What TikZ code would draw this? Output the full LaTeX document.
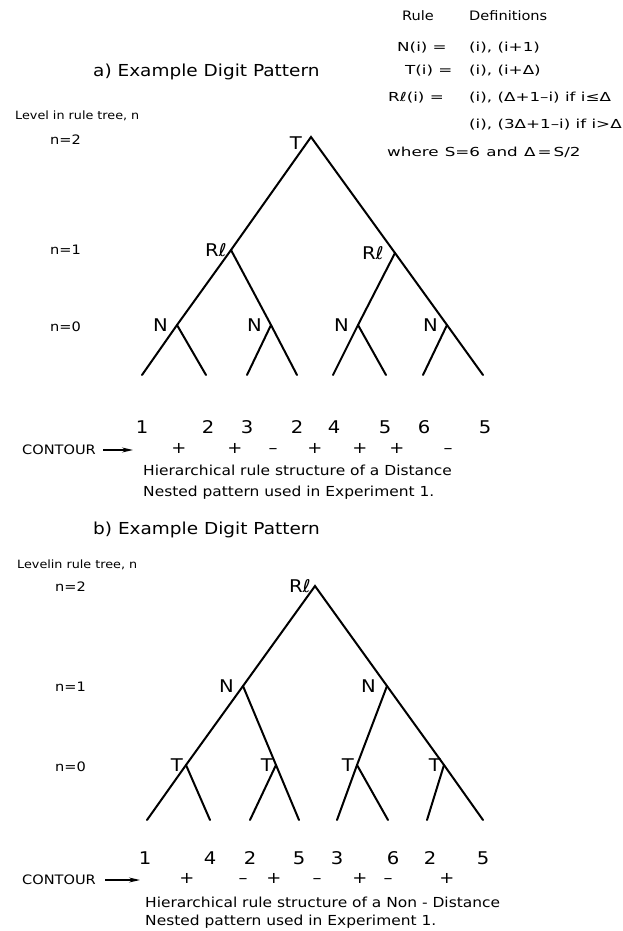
\documentclass[tikz,border=0pt]{standalone}
\usepackage{fontspec}
\setmainfont{DejaVu Sans}[FakeStretch=1.12]
\newfontfamily\rulefont{DejaVu Sans}[FakeStretch=1.35]
\usepackage{tikz}
\usetikzlibrary{arrows.meta,positioning}

\begin{document}
\begin{tikzpicture}[x=1pt,y=-1pt,>={Stealth[length=11pt,width=5pt]},
  br/.style={line width=2pt,line cap=round},
  lab/.style={font=\fontsize{17.5}{17.5}\selectfont,inner sep=0pt},
  lvl/.style={font=\fontsize{13}{13}\selectfont,anchor=west,inner sep=0pt},
  dig/.style={font=\fontsize{17.5}{17.5}\selectfont,inner sep=0pt},
  sgn/.style={font=\fontsize{16}{16}\selectfont,inner sep=0pt,text height=0.65em,text depth=0pt},
  ttl/.style={font=\fontsize{16.5}{16.5}\selectfont,anchor=west,inner sep=0pt},
  captxt/.style={font=\fontsize{13.8}{14}\selectfont,anchor=west,inner sep=0pt},
  small/.style={font=\fontsize{11.4}{12}\selectfont,anchor=west,inner sep=0pt},
  rul/.style={font=\rulefont\fontsize{12.4}{12.4}\selectfont,anchor=west,inner sep=0pt},
  arr/.style={->,line width=1.4pt}]
\useasboundingbox (0,0) rectangle (622,931);

% rule definitions
\node[font=\fontsize{13}{13}\selectfont,anchor=west,inner sep=0pt] (hrule) at (402,16) {Rule};
\node[font=\fontsize{13}{13}\selectfont,anchor=west,inner sep=0pt] (hdef) at (469,16) {Definitions};
\node[rul] (nl) at (397,48) {N(i) =};
\node[rul] (nr) at (469,48) {(i), (i+1)};
\node[rul] (tl) at (405,71) {T(i) =};
\node[rul] (tr) at (469,71) {(i), (i+Δ)};
\node[rul] (rl) at (388,98) {Rℓ(i) =};
\node[rul] (rr) at (469,98) {(i), (Δ+1–i) if i≤Δ};
\node[rul] (rr2) at (469,125) {(i), (3Δ+1–i) if i>Δ};
\node[rul] (where) at (387,152) {where\enspace S=6\enspace and\enspace Δ\,=\,S/2};

% a) distance nested pattern
\node[ttl] (atitle) at (93,72) {a) Example Digit Pattern};
\node[small] (alevel) at (15,116) {Level in rule tree, n};
\node[lvl] (an2) at (50,140) {n=2};
\node[lvl] (an1) at (50,250) {n=1};
\node[lvl] (an0) at (50,327) {n=0};

\coordinate (aT) at (311,137);
\coordinate (aRl) at (231,250);
\coordinate (aRr) at (395,253);
\coordinate (aN1) at (177,325);
\coordinate (aN2) at (271,325);
\coordinate (aN3) at (358,325);
\coordinate (aN4) at (447,325);
\foreach \x [count=\i] in {142,206,247,297,333,386,423,483}
  \coordinate (aL\i) at (\x,375);

\draw[br] (aL1) -- (aN1) -- (aRl) -- (aT) -- (aRr) -- (aN4) -- (aL8);
\draw[br] (aRl) -- (aN2) -- (aL4);
\draw[br] (aRr) -- (aN3) -- (aL5);
\draw[br] (aN1) -- (aL2);
\draw[br] (aN2) -- (aL3);
\draw[br] (aN3) -- (aL6);
\draw[br] (aN4) -- (aL7);

\node[lab,below left=0pt and 9pt of aT] (alT) {T};
\node[lab,left=4pt of aRl] (alRl) {Rℓ};
\node[lab,left=11pt of aRr] (alRr) {Rℓ};
\foreach \i in {1,...,4}
  \node[lab,left=9pt of aN\i] (alN\i) {N};

\foreach \x/\d [count=\i] in {142/1,208/2,247/3,297/2,334/4,385/5,424/6,485/5}
  \node[dig] (ad\i) at (\x,427) {\d};
\foreach \x/\s [count=\i] in {179/+,235/+,273/–,315/+,360/+,397/+,448/–}
  \node[sgn] (as\i) at (\x,450) {\s};

\node[font=\fontsize{13}{13}\selectfont,anchor=west,inner sep=0pt] (acont) at (22,450) {CONTOUR};
\coordinate (aarr) at (133,450);
\draw[arr] ([xshift=7pt]acont.east) -- (aarr);

\node[captxt] (acap1) at (143,470) {Hierarchical rule structure of a Distance};
\node[captxt] (acap2) at (143,493) {Nested pattern used in Experiment 1.};

% b) non-distance nested pattern
\node[ttl] (btitle) at (93,530) {b) Example Digit Pattern};
\node[small] (blevel) at (17,565) {Levelin rule tree, n};
\node[lvl] (bn2) at (55,587) {n=2};
\node[lvl] (bn1) at (55,687) {n=1};
\node[lvl] (bn0) at (55,767) {n=0};

\coordinate (bA) at (315,586);
\coordinate (bN1) at (243,686);
\coordinate (bN2) at (387,686);
\coordinate (bT1) at (186,765);
\coordinate (bT2) at (276,765);
\coordinate (bT3) at (357,765);
\coordinate (bT4) at (444,765);
\foreach \x [count=\i] in {147,210,250,299,337,388,427,483}
  \coordinate (bL\i) at (\x,820);

\draw[br] (bL1) -- (bT1) -- (bN1) -- (bA) -- (bN2) -- (bT4) -- (bL8);
\draw[br] (bN1) -- (bT2) -- (bL4);
\draw[br] (bN2) -- (bT3) -- (bL5);
\draw[br] (bT1) -- (bL2);
\draw[br] (bT2) -- (bL3);
\draw[br] (bT3) -- (bL6);
\draw[br] (bT4) -- (bL7);

\node[lab,left=4pt of bA] (blRl) {Rℓ};
\node[lab,left=9pt of bN1] (blN1) {N};
\node[lab,left=11pt of bN2] (blN2) {N};
\foreach \i in {1,...,4}
  \node[lab,left=3pt of bT\i] (blT\i) {T};

\foreach \x/\d [count=\i] in {145/1,210/4,250/2,299/5,337/3,393/6,430/2,483/5}
  \node[dig] (bd\i) at (\x,858) {\d};
\foreach \x/\s [count=\i] in {187/+,243/–,274/+,317/–,360/+,388/–,447/+}
  \node[sgn] (bs\i) at (\x,880) {\s};

\node[font=\fontsize{13}{13}\selectfont,anchor=west,inner sep=0pt] (bcont) at (22,880) {CONTOUR};
\coordinate (barr) at (140,880);
\draw[arr] ([xshift=9pt]bcont.east) -- (barr);

\node[captxt] (bcap1) at (145,902) {Hierarchical rule structure of a Non - Distance};
\node[captxt] (bcap2) at (145,922) {Nested pattern used in Experiment 1.};
\end{tikzpicture}
\end{document}
